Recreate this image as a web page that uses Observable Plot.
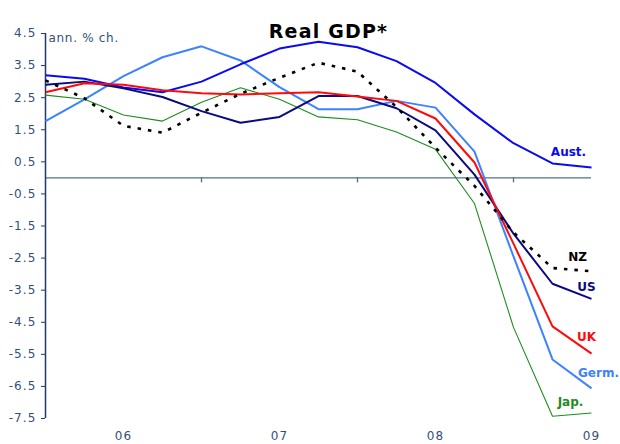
<!DOCTYPE html>
<html><head><meta charset="utf-8">
<script src="https://cdn.jsdelivr.net/npm/d3@7"></script>
<script src="https://cdn.jsdelivr.net/npm/@observablehq/plot@0.6"></script>
<style>
body{margin:0;background:#fff}
#chart svg{font-family:"DejaVu Sans",Verdana,sans-serif}
#chart svg g[aria-label="y-axis tick label"] text{letter-spacing:1.1px}
#chart svg g[aria-label="x-axis tick label"] text{letter-spacing:1px}
</style>
</head><body><div id="chart"></div>
<script>
const title = "Real GDP*";
const unitLabel = "ann. % ch.";
const quarters = ["2005Q3","2005Q4","2006Q1","2006Q2","2006Q3","2006Q4","2007Q1","2007Q2","2007Q3","2007Q4","2008Q1","2008Q2","2008Q3","2008Q4","2009Q1"];
const yearLabelQuarters = ["2006Q1","2007Q1","2008Q1","2009Q1"];
const yearLabels = ["06","07","08","09"];
const yearTickQuarters = ["2006Q3","2007Q3","2008Q3"];
const yTicks = [4.5,3.5,2.5,1.5,0.5,-0.5,-1.5,-2.5,-3.5,-4.5,-5.5,-6.5,-7.5];

const aust = [3.20, 3.09, 2.82, 2.67, 3.00, 3.54, 4.03, 4.24, 4.07, 3.64, 2.96, 1.98, 1.08, 0.45, 0.32];
const germ = [1.77, 2.45, 3.17, 3.76, 4.10, 3.66, 2.83, 2.14, 2.14, 2.40, 2.19, 0.82, -2.45, -5.66, -6.56];
const uk   = [2.67, 2.95, 2.90, 2.73, 2.64, 2.60, 2.64, 2.67, 2.54, 2.40, 1.85, 0.48, -2.05, -4.63, -5.48];
const us   = [2.90, 3.00, 2.79, 2.52, 2.08, 1.72, 1.90, 2.55, 2.55, 2.17, 1.48, 0.10, -1.74, -3.30, -3.77];
const nz   = [3.04, 2.48, 1.62, 1.41, 2.03, 2.62, 3.12, 3.59, 3.31, 2.21, 0.94, -0.25, -1.70, -2.81, -2.91];
const jap  = [2.58, 2.45, 1.96, 1.77, 2.36, 2.81, 2.45, 1.90, 1.81, 1.43, 0.89, -0.80, -4.66, -7.43, -7.33];

const seriesNames = ["Jap.", "Germ.", "Aust.", "US", "UK", "NZ"];
const seriesValues = [jap, germ, aust, us, uk, nz];

// styles (kept apart from the data)
const styles = {
  "Jap.":  {stroke: "#1e8c1e", width: 1.1, dash: null, dx: -21, dy: -11},
  "Germ.": {stroke: "#3d82ff", width: 2, dash: null, dx: 7, dy: -15},
  "Aust.": {stroke: "#0a0af0", width: 2, dash: null, dx: -23, dy: -15},
  "US":    {stroke: "#0a0a80", width: 2, dash: null, dx: -5, dy: -12},
  "UK":    {stroke: "#ff0a0a", width: 2, dash: null, dx: -5, dy: -17},
  "NZ":    {stroke: "#000000", width: 2.6, dash: "3.5,7", dx: -14, dy: -14}
};
const axisColor = "#1f3a68";
const tickTextColor = "#34507a";
const zeroColor = "#51708f";

const table = seriesNames.map((name, s) =>
  quarters.map((q, i) => ({name, q, v: seriesValues[s][i]}))
);

const marks = [
  Plot.ruleY([0], {stroke: zeroColor, strokeWidth: 1.3}),
  Plot.ruleX(yearTickQuarters, {y1: 0, y2: 0, insetBottom: -5, stroke: zeroColor, strokeWidth: 1.3}),
  Plot.ruleX([quarters[0]], {stroke: axisColor, strokeWidth: 1.5}),
  Plot.axisY(yTicks, {label: null, tickFormat: d => d.toFixed(1), tickSize: 4, tickPadding: 5, fontSize: 12, color: tickTextColor, stroke: axisColor}),
  Plot.axisX(yearLabelQuarters, {label: null, tickFormat: d => yearLabels[yearLabelQuarters.indexOf(d)], tickSize: 0, tickPadding: 13, fontSize: 12, color: tickTextColor}),
];
table.forEach(rows => {
  const st = styles[rows[0].name];
  marks.push(Plot.line(rows, {x: "q", y: "v", stroke: st.stroke, strokeWidth: st.width, strokeDasharray: st.dash, strokeLinecap: "butt", strokeLinejoin: "miter"}));
});
table.forEach(rows => {
  const st = styles[rows[0].name];
  marks.push(Plot.text(rows, Plot.selectLast({x: "q", y: "v", text: "name", fill: st.stroke, fontWeight: "bold", fontSize: 12, dx: st.dx, dy: st.dy})));
});
marks.push(Plot.text([title], {frameAnchor: "top", dx: 10, dy: -9, fontSize: 19, fontWeight: "bold", fill: "#000"}));
marks.push(Plot.text([unitLabel], {frameAnchor: "top-left", dx: 3, textAnchor: "start", fontSize: 12, fill: tickTextColor}));

const chart = Plot.plot({
  width: 620,
  height: 444,
  marginLeft: 45,
  marginRight: 29,
  marginTop: 33,
  marginBottom: 26,
  x: {type: "point", domain: quarters, padding: 0, label: null},
  y: {domain: [-7.5, 4.5], label: null},
  style: {fontFamily: "DejaVu Sans, Verdana, sans-serif", fontSize: "12px", background: "#fff", overflow: "visible"},
  marks
});
chart.querySelectorAll("text").forEach(t => {
  if (t.textContent === title) t.style.letterSpacing = "1.2px";
  if (t.textContent === unitLabel) t.style.letterSpacing = "0.7px";
});
document.getElementById("chart").appendChild(chart);
</script>
</body></html>
